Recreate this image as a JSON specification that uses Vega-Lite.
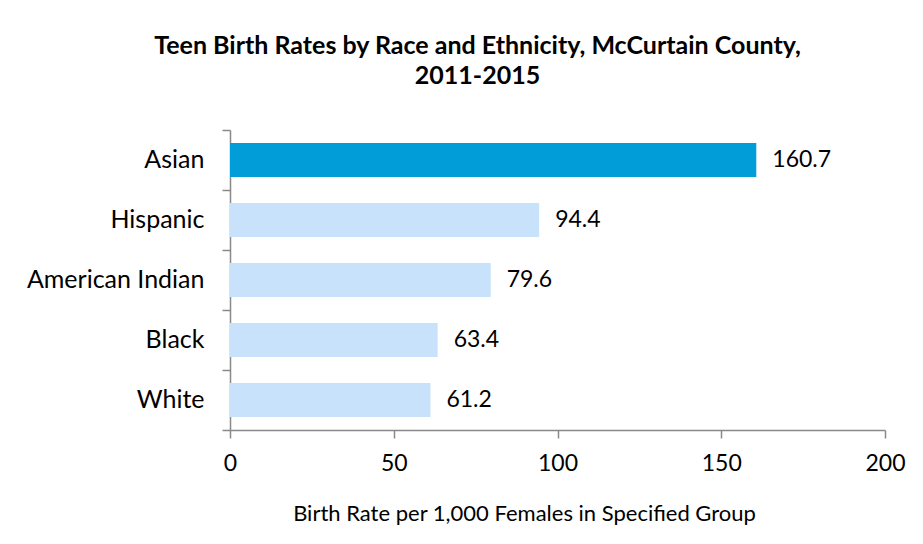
{
  "$schema": "https://vega.github.io/schema/vega-lite/v6.json",
  "width": 655,
  "height": 300,
  "autosize": {"type": "none"},
  "padding": {"left": 230, "top": 130, "right": 38, "bottom": 114},
  "background": "white",
  "title": {
    "text": ["Teen Birth Rates by Race and Ethnicity, McCurtain County,", "2011-2015"],
    "font": "Lato",
    "fontSize": 25,
    "fontWeight": "bold",
    "color": "black",
    "anchor": "middle",
    "dx": -80,
    "lineHeight": 30,
    "offset": 29
  },
  "data": {
    "values": [
      {"group": "Asian", "rate": 160.7, "highlight": "yes"},
      {"group": "Hispanic", "rate": 94.4, "highlight": "no"},
      {"group": "American Indian", "rate": 79.6, "highlight": "no"},
      {"group": "Black", "rate": 63.4, "highlight": "no"},
      {"group": "White", "rate": 61.2, "highlight": "no"}
    ]
  },
  "encoding": {
    "y": {
      "field": "group",
      "type": "nominal",
      "sort": null,
      "scale": {"paddingInner": 0, "paddingOuter": 0},
      "axis": {
        "title": null,
        "bandPosition": 1,
        "tickExtra": true,
        "tickSize": 8,
        "labelPadding": 18,
        "labelFont": "Lato",
        "labelFontSize": 25,
        "labelColor": "black",
        "domainColor": "#898989",
        "tickColor": "#898989",
        "domainWidth": 1.5,
        "tickWidth": 1.5
      }
    },
    "x": {
      "field": "rate",
      "type": "quantitative",
      "scale": {"domain": [0, 200], "nice": false},
      "axis": {
        "values": [0, 50, 100, 150, 200],
        "grid": false,
        "labelFlush": false,
        "title": "Birth Rate per 1,000 Females in Specified Group",
        "titleFont": "Lato",
        "titleFontSize": 22,
        "titleFontWeight": "normal",
        "titleColor": "black",
        "titlePadding": 28,
        "titleX": 294,
        "tickSize": 8,
        "labelPadding": 14,
        "labelFont": "Lato",
        "labelFontSize": 23,
        "labelColor": "black",
        "domainColor": "#898989",
        "tickColor": "#898989",
        "domainWidth": 1.5,
        "tickWidth": 1.5
      }
    }
  },
  "layer": [
    {
      "mark": {"type": "bar", "height": {"band": 0.57}},
      "encoding": {
        "color": {
          "field": "highlight",
          "type": "nominal",
          "scale": {"domain": ["yes", "no"], "range": ["#009DD9", "#C7E2FA"]},
          "legend": null
        }
      }
    },
    {
      "mark": {"type": "text", "align": "left", "dx": 16, "font": "Lato", "fontSize": 23, "color": "black"},
      "encoding": {
        "text": {"field": "rate", "type": "quantitative", "format": ".1f"}
      }
    }
  ],
  "config": {"view": {"stroke": null}}
}
